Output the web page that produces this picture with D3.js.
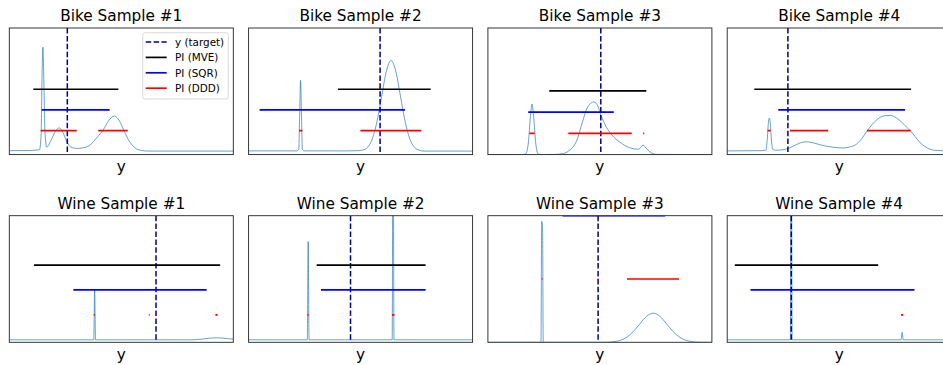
<!DOCTYPE html>
<html>
<head>
<meta charset="utf-8">
<script src="https://cdn.jsdelivr.net/npm/d3@7"></script>
<style>
  body { margin: 0; background: #fff; }
  svg { display: block; font-family: "DejaVu Sans", sans-serif; }
</style>
</head>
<body>
<div id="chart"></div>
<script>
// panel titles, row by row
var titles = ["Bike Sample #1", "Bike Sample #2", "Bike Sample #3", "Bike Sample #4",
              "Wine Sample #1", "Wine Sample #2", "Wine Sample #3", "Wine Sample #4"];

// x of the target (in % of the plotted y range)
var targets = [25.9, 58.7, 50.4, 27.1, 65.5, 45.5, 49.2, 28.6];

// prediction intervals [lo, hi]
var mveIntervals = [[10.7, 48.7], [39.9, 81.3], [27.4, 70.7], [12.1, 82.1],
                    [11.0, 94.1], [30.4, 79.0], [33.3, 79.1], [3.4, 67.4]];
var sqrIntervals = [[14.5, 44.8], [4.9, 69.8], [18.0, 56.2], [22.8, 79.4],
                    [28.6, 88.1], [32.3, 79.0], [33.3, 79.1], [10.4, 83.6]];
var dddIntervals = [
  [[14.0, 30.1], [39.7, 52.9]],
  [[22.5, 24.0], [49.9, 77.1]],
  [[18.5, 20.9], [35.9, 64.2], [69.3, 69.8]],
  [[18.0, 19.4], [28.0, 45.1], [62.4, 81.9]],
  [[37.7, 38.2], [62.3, 62.7], [65.3, 65.7], [92.0, 93.0]],
  [[26.3, 26.8], [45.3, 45.7], [64.0, 65.1]],
  [[24.0, 24.4], [49.0, 49.4], [62.1, 85.3]],
  [[28.4, 28.8], [77.6, 78.6]]
];

// heights at which the interval lines are drawn
var levelMVE = 3, levelSQR = 2, levelDDD = 1;

// vertical range of every panel
var yRanges = [[-0.16, 5.96], [-0.16, 5.96], [0, 5.96], [-0.16, 5.96],
               [-0.1, 4.98], [-0.1, 4.98], [0, 2.0], [-0.1, 4.98]];

// predicted densities, [x, density]
var densities = [
  [[0, 0.03], [10, 0.04], [13.5, 0.08], [14.2, 0.8], [14.6, 3.5], [15.0, 5.03], [15.4, 3.5],
   [15.9, 1.0], [16.7, 0.2], [18.5, 0.5], [20.5, 0.95], [22.3, 1.13], [24, 0.9], [25.5, 0.5],
   [27.5, 0.2], [30, 0.14], [33, 0.17], [36, 0.3], [39, 0.65], [42, 1.05], [44.5, 1.5],
   [46.9, 1.7], [49, 1.5], [51.2, 1.0], [53.5, 0.5], [56, 0.18], [59, 0.04], [62, 0.01], [100, 0.01]],
  [[0, 0.02], [21.5, 0.02], [22.4, 0.1], [22.8, 1.8], [23.2, 3.43], [23.6, 1.8], [24.0, 0.1],
   [24.8, 0.02], [44, 0.02], [48.9, 0.03], [51.0, 0.06], [53.1, 0.19], [55.2, 0.59], [57.3, 1.43],
   [59.4, 2.66], [61.5, 3.87], [63.6, 4.39], [65.7, 3.87], [67.8, 2.66], [69.9, 1.43], [72.0, 0.59],
   [74.1, 0.19], [76.2, 0.05], [78.3, 0.01], [100, 0.01]],
  [[0, 0], [15.5, 0], [16.8, 0.03], [18.0, 0.5], [19.0, 1.8], [19.7, 2.38], [20.4, 1.8], [21.4, 0.5],
   [22.4, 0.03], [23.5, 0], [30, 0.01], [33.8, 0.05], [35.9, 0.16], [39.8, 0.7], [42.1, 1.49],
   [44.3, 2.19], [47.3, 2.48], [49.2, 2.26], [50.4, 1.88], [52.3, 1.41], [55.2, 0.94], [59.0, 0.58],
   [63.4, 0.32], [67.1, 0.25], [69.3, 0.44], [70.8, 0.28], [73.1, 0.07], [75.3, 0.01], [100, 0]],
  [[0, 0.02], [15, 0.03], [17.2, 0.05], [17.9, 0.6], [18.4, 1.4], [18.8, 1.6], [19.2, 1.4],
   [19.7, 0.6], [20.4, 0.08], [22, 0.05], [26, 0.1], [29, 0.22], [32, 0.38], [35.1, 0.46],
   [38, 0.42], [42, 0.3], [47, 0.2], [51.8, 0.16], [55, 0.22], [57.8, 0.35], [60, 0.6],
   [62.4, 0.98], [65, 1.33], [68, 1.62], [70.5, 1.72], [72.8, 1.73], [75.5, 1.62], [78, 1.4],
   [80, 1.18], [81.9, 0.98], [84, 0.7], [86, 0.43], [88, 0.25], [90.5, 0.1], [93, 0.04], [100, 0.02]],
  [[0, 0], [37.7, 0], [38.1, 2.0], [38.5, 0], [82, 0], [86, 0.03], [90, 0.07], [92.6, 0.08],
   [95, 0.07], [98, 0.04], [100, 0.03]],
  [[0, 0], [26.2, 0], [26.6, 3.94], [27.0, 0], [64.1, 0], [64.5, 12], [64.9, 0], [100, 0]],
  [[0, 0], [23.7, 0], [24.0, 1.91], [24.4, 1.85], [24.7, 0], [52, 0], [55.8, 0.008], [58.8, 0.027],
   [61.8, 0.075], [64.8, 0.166], [67.8, 0.29], [70.8, 0.41], [73.8, 0.46], [76.8, 0.41], [79.8, 0.29],
   [82.8, 0.166], [85.8, 0.075], [88.8, 0.027], [91.8, 0.008], [95, 0.001], [100, 0]],
  [[0, 0], [28.2, 0], [28.6, 12], [29.0, 0], [77.6, 0], [78.1, 0.3], [78.6, 0], [100, 0]]
];

var legendLabels = ["y (target)", "PI (MVE)", "PI (SQR)", "PI (DDD)"];

var svgWidth = 943, svgHeight = 365;
var panelW = 224, panelH = 126.6;
var colStep = 239.3, left0 = 9.3;
var rowTops = [28, 215.7];

var colors = {curve: "#1f77b4", target: "#00008b", mve: "#000000", sqr: "#0000ff", ddd: "#ff0000"};

var svg = d3.select("#chart").append("svg")
    .attr("width", svgWidth)
    .attr("height", svgHeight);

titles.forEach(function(title, i) {
  var row = Math.floor(i / 4), col = i % 4;
  var g = svg.append("g")
      .attr("transform", `translate(${left0 + col * colStep}, ${rowTops[row]})`);

  var x = d3.scaleLinear().domain([0, 100]).range([0, panelW]);
  var y = d3.scaleLinear().domain(yRanges[i]).range([panelH, 0]);

  // clip to the axes box
  g.append("clipPath").attr("id", "clip" + i)
    .append("rect").attr("width", panelW).attr("height", panelH);
  var plot = g.append("g").attr("clip-path", `url(#clip${i})`);

  // density curve
  var line = d3.line()
      .x(d => x(d[0]))
      .y(d => y(d[1]))
      .curve(d3.curveMonotoneX);
  plot.append("path")
      .datum(densities[i])
      .attr("d", line)
      .attr("fill", "none")
      .attr("stroke", colors.curve)
      .attr("stroke-width", 0.8)
      .attr("opacity", 0.85);

  // target
  plot.append("line")
      .attr("x1", x(targets[i])).attr("x2", x(targets[i]))
      .attr("y1", 0).attr("y2", panelH)
      .attr("stroke", colors.target)
      .attr("stroke-width", 1.5)
      .attr("stroke-dasharray", "5.5,2.4");

  // intervals
  function hline(iv, level, color) {
    plot.append("line")
        .attr("x1", x(iv[0])).attr("x2", x(iv[1]))
        .attr("y1", y(level)).attr("y2", y(level))
        .attr("stroke", color)
        .attr("stroke-width", 1.7);
  }
  hline(mveIntervals[i], levelMVE, colors.mve);
  hline(sqrIntervals[i], levelSQR, colors.sqr);
  dddIntervals[i].forEach(iv => hline(iv, levelDDD, colors.ddd));

  // frame
  g.append("rect")
      .attr("width", panelW).attr("height", panelH)
      .attr("fill", "none")
      .attr("stroke", "#222")
      .attr("stroke-width", 0.9);

  g.append("text")
      .attr("x", panelW / 2).attr("y", -6.6)
      .attr("text-anchor", "middle")
      .style("font-size", "15.3px")
      .text(title);

  g.append("text")
      .attr("x", panelW / 2).attr("y", panelH + 17.3)
      .attr("text-anchor", "middle")
      .style("font-size", "15.3px")
      .text("y");
});

// legend in first panel
var leg = svg.append("g").attr("transform", "translate(142.7, 32.7)");
leg.append("rect")
    .attr("width", 85.6).attr("height", 66.3)
    .attr("rx", 2.5)
    .attr("fill", "#fff").attr("fill-opacity", 0.8)
    .attr("stroke", "#d0d0d0").attr("stroke-width", 0.8);
var legColors = [colors.target, colors.mve, colors.sqr, colors.ddd];
legendLabels.forEach(function(lbl, k) {
  var cy = 9.3 + k * 15.4;
  leg.append("line")
      .attr("x1", 3).attr("x2", 24)
      .attr("y1", cy).attr("y2", cy)
      .attr("stroke", legColors[k])
      .attr("stroke-width", k === 0 ? 1.5 : 1.7)
      .attr("stroke-dasharray", k === 0 ? "5.5,2.4" : null);
  leg.append("text")
      .attr("x", 32.3).attr("y", cy + 3.8)
      .style("font-size", "10.4px")
      .text(lbl);
});
</script>
</body>
</html>
